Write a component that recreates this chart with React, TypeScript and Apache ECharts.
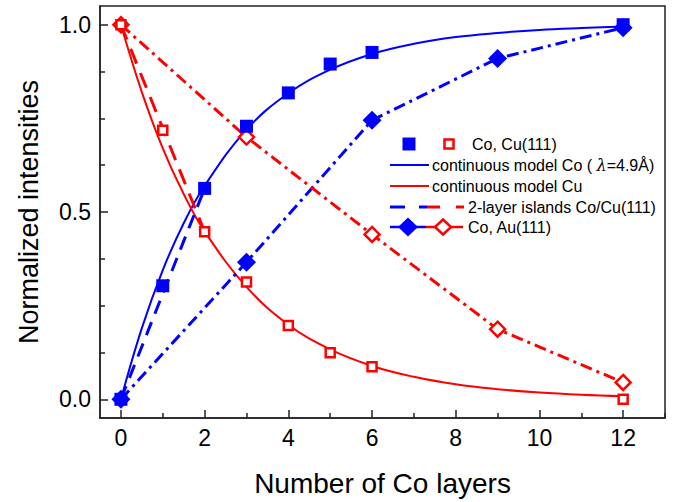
import React, { useEffect, useRef } from "react";
import * as echarts from "echarts";

// ---- Data ----
const layers = [0, 1, 2, 3, 4, 5, 6, 12];
const coCu = [0.0, 0.303, 0.563, 0.729, 0.818, 0.895, 0.926, 1.0];
const cuCu = [1.0, 0.718, 0.447, 0.313, 0.197, 0.124, 0.087, 0.0];

const auLayers = [0, 3, 6, 9, 12];
const coAu = [0.0, 0.366, 0.745, 0.91, 0.992];
const auSub = [1.0, 0.70, 0.44, 0.187, 0.045];

const modelX = [0, 0.5, 1, 1.5, 2, 3, 4, 5, 6, 7, 8, 9, 10, 11, 12];
const coModel = [0, 0.19, 0.345, 0.47, 0.57, 0.72, 0.817, 0.88, 0.922, 0.949, 0.967, 0.978, 0.986, 0.991, 0.995];
const cuModel = [1.0, 0.82, 0.67, 0.548, 0.448, 0.30, 0.199, 0.133, 0.089, 0.06, 0.04, 0.027, 0.018, 0.012, 0.008];

const islandX = [0, 2];
const coIsland = [0.0, 0.563];
const cuIsland = [1.0, 0.447];

const xMajorTicks = [0, 2, 4, 6, 8, 10, 12];
const xMinorTicks = [1, 3, 5, 7, 9, 11, 13];
const yMajorTicks = [0, 0.5, 1.0];
const yMinorTicks = [0.125, 0.25, 0.375, 0.625, 0.75, 0.875];

const BLUE = "#0000ff";
const RED = "#ff0000";
const AXIS = "#222222";
const FONT = "Liberation Sans, Arial, sans-serif";

const zip = (xs: number[], ys: number[]) => xs.map((x, i) => [x, ys[i]]);

export default function App() {
  const ref = useRef<HTMLDivElement>(null);
  useEffect(() => {
    if (!ref.current) return;
    const chart = echarts.init(ref.current, null, { renderer: "svg" });

    const baseX = {
      type: "value" as const,
      min: -0.5,
      max: 13,
      position: "bottom" as const,
      splitLine: { show: false },
    };
    const baseY = {
      type: "value" as const,
      min: -0.05,
      max: 1.05,
      position: "left" as const,
      splitLine: { show: false },
    };

    const diamondPts = (cx: number, cy: number, w: number, h: number) => [
      [cx, cy - h / 2],
      [cx + w / 2, cy],
      [cx, cy + h / 2],
      [cx - w / 2, cy],
    ];

    const legendText = (x: number, y: number, text: string, rich?: any) => ({
      type: "text",
      x,
      y,
      style: {
        text,
        fill: "#000",
        fontSize: 16,
        fontFamily: FONT,
        verticalAlign: "middle",
        align: "left",
        rich,
      },
    });

    const option: any = {
      animation: false,
      backgroundColor: "#fff",
      grid: {
        left: 100,
        top: 6,
        width: 565,
        height: 417,
        show: true,
        borderColor: AXIS,
        borderWidth: 1.5,
        backgroundColor: "transparent",
      },
      xAxis: [
        {
          ...baseX,
          name: "Number of Co layers",
          nameLocation: "middle",
          nameGap: 51,
          nameTextStyle: { fontSize: 28, fontFamily: FONT, color: "#000" },
          axisLine: { show: true, onZero: false, lineStyle: { color: AXIS, width: 1.5 } },
          axisTick: {
            show: true,
            inside: true,
            length: 8,
            customValues: xMajorTicks,
            lineStyle: { color: AXIS, width: 1.5 },
          },
          axisLabel: {
            customValues: xMajorTicks,
            fontSize: 23,
            fontFamily: FONT,
            color: "#000",
            margin: 8,
          },
        },
        {
          ...baseX,
          axisLine: { show: false, onZero: false },
          axisTick: {
            show: true,
            inside: true,
            length: 5,
            customValues: xMinorTicks,
            lineStyle: { color: AXIS, width: 1.5 },
          },
          axisLabel: { show: false },
        },
      ],
      yAxis: [
        {
          ...baseY,
          name: "Normalized intensities",
          nameLocation: "middle",
          nameGap: 58,
          nameTextStyle: { fontSize: 27, fontFamily: FONT, color: "#000" },
          axisLine: { show: true, onZero: false, lineStyle: { color: AXIS, width: 1.5 } },
          axisTick: {
            show: true,
            inside: true,
            length: 8,
            customValues: yMajorTicks,
            lineStyle: { color: AXIS, width: 1.5 },
          },
          axisLabel: {
            customValues: yMajorTicks,
            fontSize: 23,
            fontFamily: FONT,
            color: "#000",
            margin: 9,
            formatter: (v: number) => v.toFixed(1),
          },
        },
        {
          ...baseY,
          axisLine: { show: false, onZero: false },
          axisTick: {
            show: true,
            inside: true,
            length: 5,
            customValues: yMinorTicks,
            lineStyle: { color: AXIS, width: 1.5 },
          },
          axisLabel: { show: false },
        },
      ],
      series: [
        {
          name: "continuous model Co",
          type: "line",
          smooth: 0.4,
          symbol: "none",
          data: zip(modelX, coModel),
          lineStyle: { color: BLUE, width: 2 },
          z: 2,
        },
        {
          name: "continuous model Cu",
          type: "line",
          smooth: 0.4,
          symbol: "none",
          data: zip(modelX, cuModel),
          lineStyle: { color: RED, width: 2 },
          z: 2,
        },
        {
          name: "2-layer islands Co",
          type: "line",
          symbol: "none",
          data: zip(islandX, coIsland),
          lineStyle: { color: BLUE, width: 3, type: [14, 9] },
          z: 2,
        },
        {
          name: "2-layer islands Cu",
          type: "line",
          symbol: "none",
          data: zip(islandX, cuIsland),
          lineStyle: { color: RED, width: 3, type: [16, 10] },
          z: 2,
        },
        {
          name: "Co, Au(111) Co",
          type: "line",
          symbol: "diamond",
          symbolSize: 19,
          data: zip(auLayers, coAu),
          lineStyle: { color: BLUE, width: 3, type: [12, 5, 3, 5] },
          itemStyle: { color: BLUE, opacity: 1 },
          z: 3,
        },
        {
          name: "Co, Au(111) Au",
          type: "line",
          symbol: "diamond",
          symbolSize: 15,
          data: zip(auLayers, auSub),
          lineStyle: { color: RED, width: 3, type: [12, 5, 3, 5] },
          itemStyle: { color: "#fff", borderColor: RED, borderWidth: 2.5, opacity: 1 },
          z: 3,
        },
        {
          name: "Co, Cu(111) Co",
          type: "scatter",
          symbol: "rect",
          symbolSize: 13,
          data: zip(layers, coCu),
          itemStyle: { color: BLUE, opacity: 1 },
          z: 4,
        },
        {
          name: "Co, Cu(111) Cu",
          type: "scatter",
          symbol: "rect",
          symbolSize: 9,
          data: zip(layers, cuCu),
          itemStyle: { color: "#fff", borderColor: RED, borderWidth: 2.5, opacity: 1 },
          z: 4,
        },
      ],
      graphic: [
        // row 1
        { type: "rect", shape: { x: 402.5, y: 137.5, width: 13, height: 13 }, style: { fill: BLUE } },
        { type: "rect", shape: { x: 444.5, y: 139.5, width: 9, height: 9 }, style: { fill: "#fff", stroke: RED, lineWidth: 2.5 } },
        legendText(472, 144, "Co, Cu(111)"),
        // row 2
        { type: "line", shape: { x1: 390, y1: 165, x2: 429, y2: 165 }, style: { stroke: BLUE, lineWidth: 2 } },
        legendText(432, 165, "continuous model Co ( {i|λ}=4.9Å)", {
          i: { fontStyle: "italic", fontSize: 16, fontFamily: "DejaVu Serif, serif", fill: "#000" },
        }),
        // row 3
        { type: "line", shape: { x1: 390, y1: 186, x2: 429, y2: 186 }, style: { stroke: RED, lineWidth: 2 } },
        legendText(432, 186, "continuous model Cu"),
        // row 4
        { type: "line", shape: { x1: 390, y1: 207, x2: 405, y2: 207 }, style: { stroke: BLUE, lineWidth: 3 } },
        { type: "line", shape: { x1: 419, y1: 207, x2: 427, y2: 207 }, style: { stroke: BLUE, lineWidth: 3 } },
        { type: "line", shape: { x1: 427, y1: 207, x2: 440, y2: 207 }, style: { stroke: RED, lineWidth: 3 } },
        { type: "line", shape: { x1: 456, y1: 207, x2: 464, y2: 207 }, style: { stroke: RED, lineWidth: 3 } },
        legendText(468, 207, "2-layer islands Co/Cu(111)"),
        // row 5
        { type: "line", shape: { x1: 390, y1: 227, x2: 426, y2: 227 }, style: { stroke: BLUE, lineWidth: 2.5 } },
        { type: "line", shape: { x1: 426, y1: 227, x2: 463, y2: 227 }, style: { stroke: RED, lineWidth: 2.5 } },
        { type: "polygon", shape: { points: diamondPts(408, 227, 20, 19) }, style: { fill: BLUE } },
        { type: "polygon", shape: { points: diamondPts(443, 227, 16, 15) }, style: { fill: "#fff", stroke: RED, lineWidth: 2.5 } },
        legendText(468, 227, "Co, Au(111)"),
      ],
    };

    chart.setOption(option);
    return () => chart.dispose();
  }, []);

  return (
    <div
      ref={ref}
      style={{ position: "absolute", left: 0, top: 0, width: 674, height: 502, background: "#fff" }}
    />
  );
}
